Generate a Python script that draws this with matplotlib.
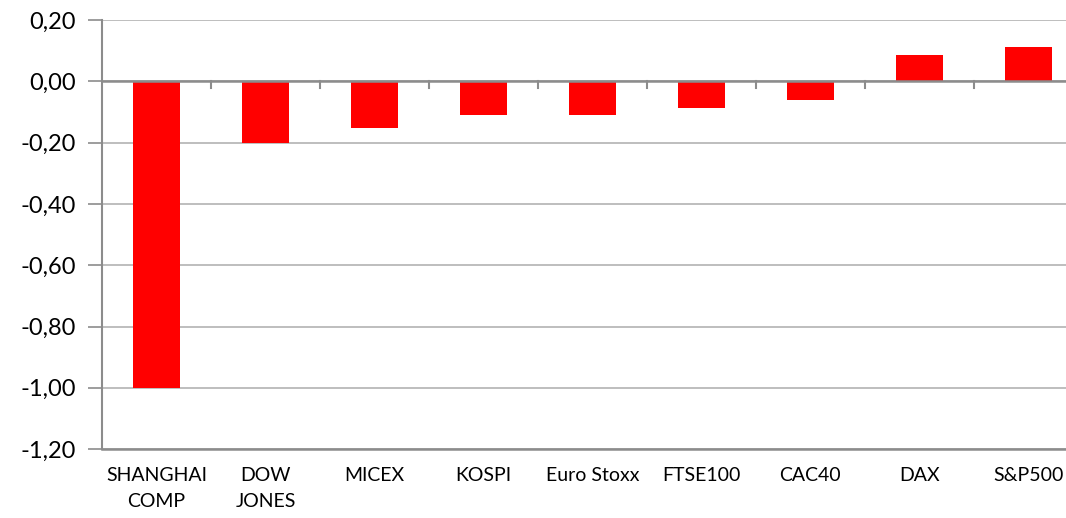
import numpy as np
import matplotlib.pyplot as plt

plt.rcParams['font.family'] = ['Lato', 'DejaVu Sans']

indices = ['SHANGHAI\nCOMP', 'DOW\nJONES', 'MICEX', 'KOSPI', 'Euro Stoxx',
           'FTSE100', 'CAC40', 'DAX', 'S&P500']
changes = [-1.00, -0.20, -0.153, -0.108, -0.108, -0.088, -0.062, 0.085, 0.111]
yticks = [0.20, 0.00, -0.20, -0.40, -0.60, -0.80, -1.00, -1.20]

fig = plt.figure(figsize=(10.66, 5.18), dpi=100)
ax = fig.add_axes([0.0957, 0.133, 0.920, 0.828])

x = np.arange(len(indices))
ax.bar(x, changes, width=0.43, color='#ff0000', zorder=3)

ax.set_xlim(-0.5, len(indices) - 0.5)
ax.set_ylim(-1.2, 0.2)
ax.set_yticks(yticks)
ax.set_yticklabels([f'{v:.2f}'.replace('.', ',') for v in yticks], fontsize=17)
ax.yaxis.grid(True, color='#b3b3b3', linewidth=1.2, zorder=0)
ax.tick_params(axis='y', length=10, width=1.2, color='#8c8c8c', pad=9)

# category axis sits on zero, labels at the bottom
ax.axhline(0, color='#8c8c8c', linewidth=1.8, zorder=4)
for b in np.arange(0.5, len(indices) - 0.5):
    ax.plot([b, b], [0, -0.02], color='#8c8c8c', linewidth=1.5, zorder=4)
ax.set_xticks(x)
ax.set_xticklabels(indices, fontsize=14, linespacing=1.6)
ax.tick_params(axis='x', length=0, pad=13)

for s in ['top', 'right']:
    ax.spines[s].set_visible(False)
ax.spines['left'].set_color('#8c8c8c')
ax.spines['left'].set_linewidth(1.5)
ax.spines['bottom'].set_color('#8c8c8c')
ax.spines['bottom'].set_linewidth(1.8)

fig.savefig('out.png', dpi=100)
